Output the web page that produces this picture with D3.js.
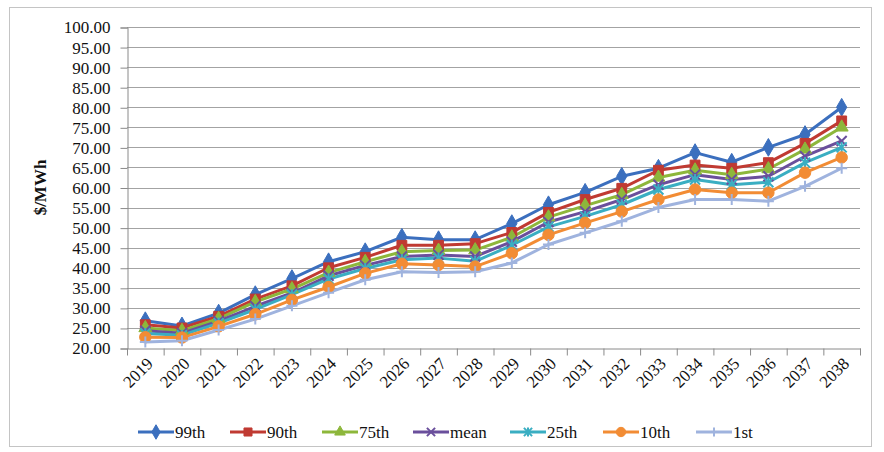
<!DOCTYPE html>
<html>
<head>
<meta charset="utf-8">
<script src="https://cdn.jsdelivr.net/npm/d3@7"></script>
<style>
  html, body { margin: 0; padding: 0; background: #fff; }
  svg { display: block; }
  svg text { font-family: "Liberation Serif", "Times New Roman", Times, "DejaVu Serif", serif !important; fill: #111; }
</style>
</head>
<body>
<svg id="chart" width="884" height="452"></svg>
<script>
// Forecast years
const years = ["2019","2020","2021","2022","2023","2024","2025","2026","2027","2028",
               "2029","2030","2031","2032","2033","2034","2035","2036","2037","2038"];

// Price percentiles, $/MWh
const p99  = [26.8, 25.5, 28.7, 33.3, 37.3, 41.5, 44.0, 47.6, 47.0, 47.0, 51.0, 55.7, 58.8, 62.8, 64.8, 68.7, 66.3, 70.0, 73.2, 80.0];
const p90  = [25.8, 25.0, 27.9, 32.2, 35.5, 40.0, 42.6, 45.6, 45.6, 46.0, 48.8, 53.8, 57.0, 59.8, 64.3, 65.6, 64.8, 66.2, 71.0, 76.6];
const p75  = [25.0, 24.3, 27.3, 31.5, 34.7, 38.8, 41.5, 44.0, 44.3, 44.4, 47.6, 52.6, 55.5, 58.2, 62.5, 64.3, 63.2, 64.6, 69.5, 75.0];
const mean = [24.3, 23.7, 26.7, 30.4, 33.7, 38.0, 40.6, 42.8, 43.2, 42.8, 46.5, 51.4, 54.0, 57.0, 60.7, 63.2, 62.0, 62.8, 67.8, 71.6];
const p25  = [23.6, 23.2, 26.2, 29.6, 33.3, 37.2, 39.8, 42.0, 42.4, 41.6, 45.6, 50.2, 52.8, 55.7, 59.5, 62.0, 60.7, 61.3, 66.2, 70.0];
const p10  = [22.7, 22.6, 25.4, 28.4, 32.0, 35.2, 38.6, 41.0, 40.7, 40.3, 43.6, 48.2, 51.2, 54.0, 57.0, 59.5, 58.7, 58.7, 63.7, 67.5];
const p1   = [21.5, 21.8, 24.5, 27.2, 30.5, 33.8, 37.0, 39.0, 38.8, 39.0, 41.2, 45.8, 48.7, 51.6, 55.0, 57.0, 57.0, 56.6, 60.3, 64.8];

const seriesNames = ["99th", "90th", "75th", "mean", "25th", "10th", "1st"];
const yTicks = d3.range(20, 100.01, 5);

const series = [
  { name: seriesNames[0], values: p99,  color: "#3b6fbe", marker: "diamond" },
  { name: seriesNames[1], values: p90,  color: "#c03a32", marker: "square" },
  { name: seriesNames[2], values: p75,  color: "#8db73b", marker: "triangle" },
  { name: seriesNames[3], values: mean, color: "#6a4f9c", marker: "cross" },
  { name: seriesNames[4], values: p25,  color: "#3aaec2", marker: "star" },
  { name: seriesNames[5], values: p10,  color: "#f28c34", marker: "circle" },
  { name: seriesNames[6], values: p1,   color: "#9fb3de", marker: "plus" }
];

const svg = d3.select("#chart");
const margin = { left: 127, right: 24, top: 27, bottom: 104 };
const W = 884, H = 452;
const serif = "'Liberation Serif', 'Times New Roman', Times, 'DejaVu Serif', serif";

// outer chart frame
svg.append("rect")
  .attr("x", 9.5).attr("y", 7.5)
  .attr("width", 862).attr("height", 439)
  .attr("fill", "#fff").attr("stroke", "#c4c4c4").attr("stroke-width", 1);

const x = d3.scaleBand().domain(years).range([margin.left, W - margin.right]).padding(0);
const y = d3.scaleLinear().domain([20, 100]).range([H - margin.bottom, margin.top]);

// horizontal gridlines
svg.append("g")
  .selectAll("line")
  .data(yTicks.filter(v => v > 20))
  .join("line")
  .attr("x1", margin.left).attr("x2", W - margin.right)
  .attr("y1", d => Math.round(y(d)) + 0.5).attr("y2", d => Math.round(y(d)) + 0.5)
  .attr("stroke", "#a3a3a3").attr("stroke-width", 1);

// y axis
const yAxis = svg.append("g")
  .attr("transform", `translate(${margin.left + 0.5},0.5)`)
  .call(d3.axisLeft(y).tickValues(yTicks).tickFormat(d3.format(".2f")).tickSize(7).tickPadding(10))
  .attr("font-family", serif);
yAxis.selectAll("text").style("font-size", "17px");
yAxis.selectAll("line, path").attr("stroke", "#8a8a8a");

// x axis
const xAxis = svg.append("g")
  .attr("transform", `translate(0.5,${H - margin.bottom + 0.5})`)
  .call(d3.axisBottom(x).tickSize(0).tickFormat(""))
  .attr("font-family", serif);
xAxis.select("path").attr("stroke", "#8a8a8a");
// tick marks between categories
xAxis.append("g").selectAll("line")
  .data(years.concat(["end"]))
  .join("line")
  .attr("x1", (d, i) => margin.left + i * x.step()).attr("x2", (d, i) => margin.left + i * x.step())
  .attr("y1", 0).attr("y2", 7)
  .attr("stroke", "#8a8a8a");
// rotated year labels
xAxis.append("g").selectAll("text")
  .data(years)
  .join("text")
  .attr("transform", d => `translate(${x(d) + x.bandwidth() / 2 + 4},${12}) rotate(-45)`)
  .attr("text-anchor", "end")
  .attr("dy", "0.35em")
  .style("font-size", "17px")
  .text(d => d);

// y axis title
svg.append("text")
  .attr("transform", `translate(46,${(margin.top + H - margin.bottom) / 2}) rotate(-90)`)
  .attr("text-anchor", "middle")
  .style("font-size", "17px")
  .style("font-weight", "bold")
  .text("$/MWh");

// marker shapes
function markerPath(type, s) {
  switch (type) {
    case "diamond": return d3.symbol(d3.symbolDiamond, s * s * 0.75)();
    case "square": return d3.symbol(d3.symbolSquare, s * s * 0.8)();
    case "triangle": return d3.symbol(d3.symbolTriangle, s * s * 0.6)();
    case "circle": return d3.symbol(d3.symbolCircle, s * s * 0.85)();
    case "cross": { const h = s / 2.2; return `M${-h},${-h}L${h},${h}M${-h},${h}L${h},${-h}`; }
    case "plus": { const h = s / 2; return `M${-h},0L${h},0M0,${-h}L0,${h}`; }
    case "star": { const h = s / 2.2; return `M${-h},${-h}L${h},${h}M${-h},${h}L${h},${-h}M0,${-h * 1.1}L0,${h * 1.1}`; }
  }
}
function drawMarker(g, type, color, size) {
  const stroked = type === "cross" || type === "plus" || type === "star";
  g.append("path")
    .attr("d", markerPath(type, size))
    .attr("fill", stroked ? "none" : color)
    .attr("stroke", color)
    .attr("stroke-width", stroked ? 2 : 1);
}

const line = d3.line()
  .x((d, i) => x(years[i]) + x.bandwidth() / 2)
  .y(d => y(d));

const plot = svg.append("g");
series.forEach(s => {
  plot.append("path")
    .datum(s.values)
    .attr("d", line)
    .attr("fill", "none")
    .attr("stroke", s.color)
    .attr("stroke-width", 3)
    .attr("stroke-linejoin", "round");
});
series.forEach(s => {
  s.values.forEach((v, i) => {
    const g = plot.append("g")
      .attr("transform", `translate(${x(years[i]) + x.bandwidth() / 2},${y(v)})`);
    drawMarker(g, s.marker, s.color, 11);
  });
});

// legend
const legendX = [138, 230, 322, 413, 510, 603, 696];
const legend = svg.append("g").attr("transform", "translate(0,432)");
series.forEach((s, i) => {
  const g = legend.append("g").attr("transform", `translate(${legendX[i]},0)`);
  g.append("line").attr("x1", 0).attr("x2", 36).attr("y1", 0).attr("y2", 0)
    .attr("stroke", s.color).attr("stroke-width", 3);
  const m = g.append("g").attr("transform", "translate(18,0)");
  drawMarker(m, s.marker, s.color, 9);
  g.append("text").attr("x", 37).attr("dy", "0.35em")
    .style("font-size", "17px").text(s.name);
});
</script>
</body>
</html>
